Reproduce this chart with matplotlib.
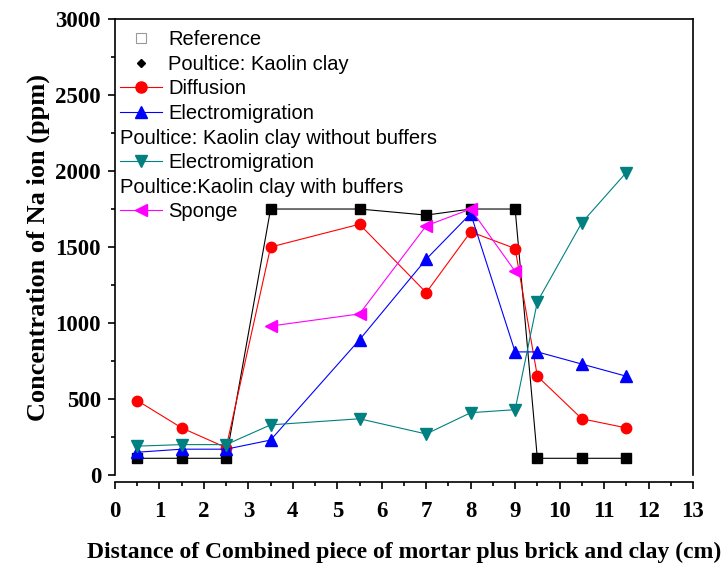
import matplotlib
matplotlib.use("Agg")
import matplotlib.pyplot as plt
from matplotlib.lines import Line2D
from matplotlib.ticker import MultipleLocator
from matplotlib.transforms import Affine2D

# distance (cm)
x_ref = [0.5, 1.5, 2.5, 3.5, 5.5, 7, 8, 9, 9.5, 10.5, 11.5]
x_sponge = [3.5, 5.5, 7, 8, 9]

# Na concentration (ppm)
reference = [110, 110, 110, 1750, 1750, 1710, 1750, 1750, 110, 110, 110]
diffusion = [490, 310, 180, 1500, 1650, 1200, 1600, 1490, 650, 370, 310]
electro = [150, 170, 170, 230, 890, 1420, 1720, 810, 810, 730, 650]
electro_nobuf = [190, 200, 200, 330, 370, 270, 410, 430, 1140, 1660, 1990]
sponge = [980, 1060, 1640, 1750, 1340]

xlabel = "Distance of Combined piece of mortar plus brick and clay (cm)"
ylabel = "Concentration of Na ion (ppm)"

serif = "Liberation Serif"
sans = "Liberation Sans"

fig = plt.figure(figsize=(7.26, 5.68), dpi=100)
ax = fig.add_axes([0.1584, 0.1637, 0.7961, 0.8028])

ax.plot(x_ref, reference, color="black", lw=0.8, marker="s", ms=6.5, zorder=2)
ax.plot(x_ref, diffusion, color="#ff0000", lw=0.8, marker="o", ms=7.5, zorder=3)
ax.plot(x_ref, electro, color="#0000ff", lw=0.8, marker="^", ms=8, zorder=4)
ax.plot(x_ref, electro_nobuf, color="#008080", lw=0.8, marker="v", ms=8, zorder=5)
ax.plot(x_sponge, sponge, color="#ff00ff", lw=0.8, marker="<", ms=8, zorder=6)

ax.set_xlim(0, 13)
ax.set_ylim(0, 3000)
ax.xaxis.set_major_locator(MultipleLocator(1))
ax.xaxis.set_minor_locator(MultipleLocator(0.5))
ax.yaxis.set_major_locator(MultipleLocator(500))
ax.yaxis.set_minor_locator(MultipleLocator(250))

for s in ax.spines.values():
    s.set_linewidth(1.2)
ax.spines["bottom"].set_position(("outward", 5))
ax.tick_params(which="both", direction="out", top=False, right=False, width=1.2)
ax.tick_params(which="major", length=5)
ax.tick_params(which="minor", length=3)
ax.tick_params(axis="x", which="major", pad=9)
ax.tick_params(axis="y", which="major", pad=5)
for lab in ax.get_xticklabels() + ax.get_yticklabels():
    lab.set_fontfamily(serif)
    lab.set_fontweight("bold")
    lab.set_fontsize(16.5)

ax.set_xlabel(xlabel, fontfamily=serif, fontweight="bold", fontsize=17, labelpad=14)
ax.set_ylabel(ylabel, fontfamily=serif, fontweight="bold", fontsize=19, labelpad=4)

blank = Line2D([], [], ls="none", marker=None)
handles = [
    Line2D([], [], ls="none", marker="s", mfc="white", mec="#999999", ms=6.5, mew=0.8),
    Line2D([], [], ls="none", marker="D", color="black", ms=4.5),
    Line2D([], [], color="#ff0000", lw=0.8, marker="o", ms=8),
    Line2D([], [], color="#0000ff", lw=0.8, marker="^", ms=8.5),
    blank,
    Line2D([], [], color="#008080", lw=0.8, marker="v", ms=8.5),
    blank,
    Line2D([], [], color="#ff00ff", lw=0.8, marker="<", ms=8.5),
]
labels = [
    "Reference",
    "Poultice: Kaolin clay",
    "Diffusion",
    "Electromigration",
    "Poultice: Kaolin clay without buffers",
    "Electromigration",
    "Poultice:Kaolin clay with buffers",
    "Sponge",
]
fs = 14.5
hl, htp = 2.1, 0.3
leg = ax.legend(handles, labels, loc="upper left", frameon=False,
                bbox_to_anchor=(0.0087, 0.976),
                prop={"family": sans, "size": fs}, handlelength=hl,
                handletextpad=htp, labelspacing=0.28, borderaxespad=0,
                borderpad=0)

# header rows have no handle: slide their text left over the empty handle slot
shift = (hl + htp) * fs * fig.dpi / 72
for i in (4, 6):
    t = leg.get_texts()[i]
    t.set_transform(t.get_transform() + Affine2D().translate(-shift, 0))

fig.savefig("out.png", dpi=100)
